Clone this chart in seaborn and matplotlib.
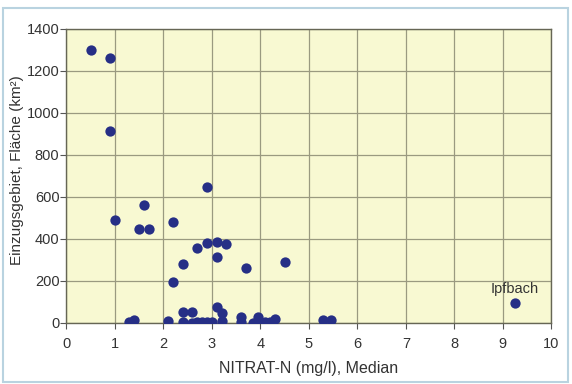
import numpy as np
import pandas as pd
import matplotlib
matplotlib.use("Agg")
import matplotlib.pyplot as plt
import seaborn as sns
from matplotlib.patches import Rectangle

# values
nitrat = [0.5, 0.9, 0.9, 1.0, 1.6, 1.5, 1.7, 2.2, 2.9, 2.7, 2.9, 3.1, 3.3, 3.1,
          2.4, 3.7, 4.5, 2.2,
          3.1, 3.2, 2.4, 2.6, 2.4, 2.6, 1.3, 1.4, 2.1, 2.7, 2.8, 2.9, 3.0, 3.2,
          3.6, 3.6, 3.85, 3.95, 4.0, 4.1, 4.2, 4.3, 5.3, 5.45, 9.25]
flaeche = [1300, 1260, 915, 490, 560, 446, 446, 482, 646, 359, 382, 384, 378, 313,
           282, 263, 292, 194,
           78, 45, 52, 52, 5, 0, 5, 14, 11, 6, 6, 5, 5, 8,
           27, 5, 0, 28, 5, 3, 3, 18, 12, 12, 94]
label_name = "Ipfbach"
label_x, label_y = 9.25, 94

df = pd.DataFrame({"nitrat": nitrat, "flaeche": flaeche})

sns.set_style("ticks")
plt.rcParams["font.family"] = ["Liberation Sans", "DejaVu Sans"]

fig = plt.figure(figsize=(5.72, 3.84), dpi=100)
ax = fig.add_axes([0.116, 0.159, 0.848, 0.766])
ax.set_facecolor("#f8f9d2")

sns.scatterplot(data=df, x="nitrat", y="flaeche", ax=ax, color="#262f86",
                s=55, edgecolor="#262f86", linewidth=0, zorder=3, legend=False)

ax.annotate(label_name, (label_x, label_y), xytext=(0, 5), textcoords="offset points",
            ha="center", va="bottom", fontsize=10.5, color="#333333")

ax.set_xlim(0, 10)
ax.set_ylim(0, 1400)
ax.set_xticks(range(0, 11))
ax.set_yticks(range(0, 1401, 200))
ax.grid(True, color="#9a9a80", linewidth=0.9)
ax.set_axisbelow(True)
for sp in ax.spines.values():
    sp.set_color("#666655")
    sp.set_linewidth(1.0)
ax.tick_params(axis="both", labelsize=10.5, colors="#555555", length=4, width=0.8,
               labelcolor="#333333")
ax.tick_params(axis="x", pad=6)
ax.tick_params(axis="y", pad=1)

ax.set_xlabel("NITRAT-N (mg/l), Median", fontsize=11.5, color="#333333")
ax.set_ylabel("Einzugsgebiet, Fläche (km²)", fontsize=11, color="#333333")
ax.yaxis.set_label_coords(-0.088, 0.52)
ax.xaxis.set_label_coords(0.5, -0.13)

# light blue frame around the figure
fig.patches.append(Rectangle((0.006, 0.005), 0.987, 0.975, transform=fig.transFigure,
                             fill=False, edgecolor="#b9d3e0", linewidth=1.5))

fig.savefig("out.png", dpi=100)
